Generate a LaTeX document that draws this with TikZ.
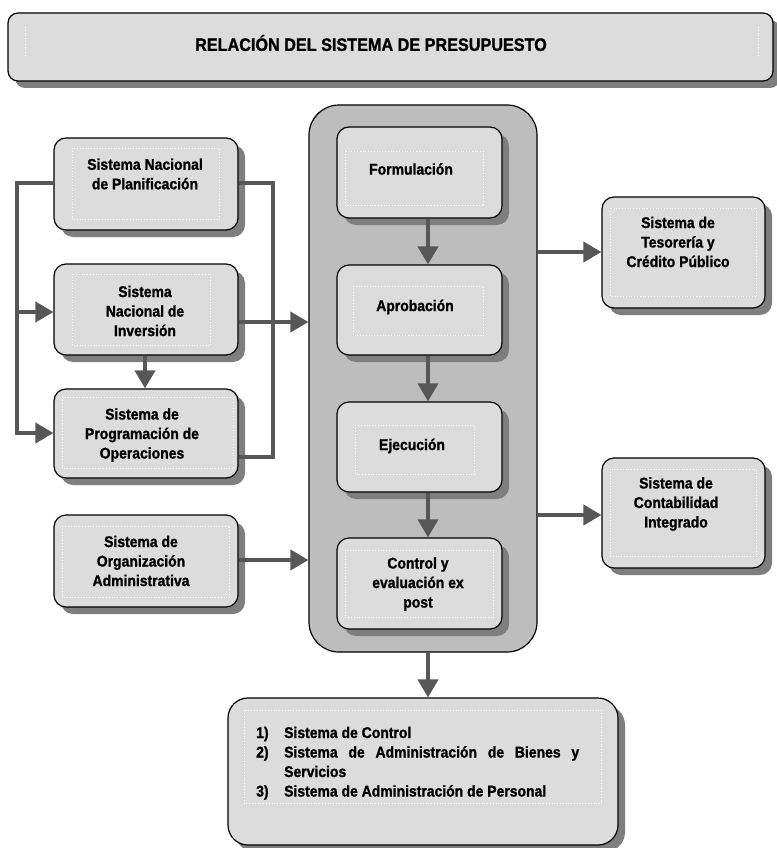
\documentclass[tikz,border=0pt]{standalone}
\usepackage{fontspec}
\setmainfont{Liberation Sans}[FakeStretch=0.9, BoldFeatures={FakeBold=1.2}]
\usetikzlibrary{arrows.meta,shadows,calc}
\definecolor{boxfill}{HTML}{DCDCDC}
\definecolor{bigfill}{HTML}{BDBDBD}
\definecolor{shade}{HTML}{7E7E7E}
\definecolor{arrowc}{HTML}{575757}
\newcommand\boxfont{\fontsize{15.5}{19.5}\selectfont\bfseries}
\newcommand\titlefont{\fontsize{18}{22}\selectfont\bfseries}
\begin{document}
\begin{tikzpicture}[x=1pt,y=-1pt,
  box/.style={draw=black, line width=1.2pt, fill=boxfill, rounded corners=12pt, inner sep=0pt,
    drop shadow={shadow xshift=7pt, shadow yshift=-7pt, fill=shade, opacity=1}},
  bigbox/.style={draw=black, line width=1.2pt, fill=bigfill, rounded corners=30pt, inner sep=0pt},
  txt/.style={font=\boxfont, align=center, inner sep=0pt},
  innerdot/.style={draw=white, dotted, line width=0.8pt},
  conn/.style={draw=arrowc, line width=4pt},
  arr/.style={conn, -{Triangle[length=18pt,width=20pt]}}
]
\useasboundingbox (0,0) rectangle (776,848);

% title
\node[box, rounded corners=10pt, minimum width=765pt, minimum height=68pt] (title) at (390.5,47) {};
\draw[innerdot] (25,27) -- (25,56);
\draw[innerdot] (758,27) -- (758,56);
\node[font=\titlefont, inner sep=0pt] (titletext) at (371,43) {RELACIÓN DEL SISTEMA DE PRESUPUESTO};

% big process container
\node[bigbox, minimum width=228pt, minimum height=547pt] (big) at (423,378.5) {};

% left column
\node[box, minimum width=184pt, minimum height=92pt] (plan) at (146,184) {};
\node[box, minimum width=184pt, minimum height=91pt] (inv) at (146,309.5) {};
\node[box, minimum width=184pt, minimum height=89pt] (prog) at (146,433.5) {};
\node[box, minimum width=184pt, minimum height=92pt] (org) at (146,561) {};

% process steps
\node[box, minimum width=165pt, minimum height=91pt] (form) at (419.5,172.5) {};
\node[box, minimum width=165pt, minimum height=90pt] (apro) at (419.5,310) {};
\node[box, minimum width=165pt, minimum height=90pt] (ejec) at (419.5,447) {};
\node[box, minimum width=165pt, minimum height=91pt] (ctrl) at (419.5,583.5) {};

% right column
\node[box, minimum width=163pt, minimum height=111pt] (teso) at (683.5,252.5) {};
\node[box, minimum width=163pt, minimum height=110pt] (cont) at (683.5,513) {};

% bottom box
\node[box, rounded corners=20pt, minimum width=390pt, minimum height=147pt] (sub) at (423,771.5) {};

% inner dotted frames
\foreach \n/\l/\t/\r/\b in {plan/19/11/19/11, inv/19/11/28/10, prog/9/9/5/10, org/9/12/9/10,
  form/9/25/19/13, apro/17/22/19/20, ejec/19/24/28/18, ctrl/9/13/9/12,
  teso/9/12/9/12, cont/9/12/9/12, sub/17/13/17/42}
  \draw[innerdot] ($(\n.north west)+(\l,\t)$) rectangle ($(\n.south east)+(-\r,-\b)$);

% texts
\node[txt] (plant) at (145,174) {Sistema Nacional\\de Planificación};
\node[txt] (invt) at (145,311) {Sistema\\Nacional de\\Inversión};
\node[txt] (progt) at (142,435) {Sistema de\\Programación de\\Operaciones};
\node[txt] (orgt) at (141,561) {Sistema de\\Organización\\Administrativa};
\node[txt] (formt) at (411,169) {Formulación};
\node[txt] (aprot) at (415,307) {Aprobación};
\node[txt] (eject) at (412,446) {Ejecución};
\node[txt] (ctrlt) at (418,584) {Control y\\evaluación ex\\post};
\node[txt] (tesot) at (678,242) {Sistema de\\Tesorería y\\Crédito Público};
\node[txt] (contt) at (676,504) {Sistema de\\Contabilidad\\Integrado};
\node[inner sep=0pt, anchor=base west, font=\boxfont] (subt) at (256,738)
 {\parbox[t]{323pt}{\tolerance=9999\hbadness=10000\hyphenpenalty=10000\exhyphenpenalty=10000
  \hangindent=28pt\hangafter=1\noindent\makebox[28pt][l]{1)}Sistema de Control\par
  \hangindent=28pt\hangafter=1\noindent\makebox[28pt][l]{2)}Sistema de Administración de Bienes y Servicios\par
  \hangindent=28pt\hangafter=1\noindent\makebox[28pt][l]{3)}Sistema de Administración de Personal\par}};

% connectors
\coordinate (lt) at (17,183);
\coordinate (lb) at (17,433);
\coordinate (lm) at (17,312);
\coordinate (rt) at (273,183);
\coordinate (rb) at (273,457);
\draw[arr] (plan.west |- lt) -- (lt) -- (lb) -- (prog.west |- lb);
\draw[arr] (lm) -- (inv.west |- lm);
\draw[conn] (plan.east |- rt) -- (rt) -- (rb) -- (prog.east |- rb);
\draw[arr] (inv.east |- 0,322) -- (big.west |- 0,322);
\draw[arr] (inv.south -| 145,0) -- (prog.north -| 145,0);
\draw[arr] (org.east |- 0,560) -- (big.west |- 0,560);
\draw[arr] (form.south -| 428,0) -- (apro.north -| 428,0);
\draw[arr] (apro.south -| 428,0) -- (ejec.north -| 428,0);
\draw[arr] (ejec.south -| 428,0) -- (ctrl.north -| 428,0);
\draw[arr] (big.east |- 0,252) -- (teso.west |- 0,252);
\draw[arr] (big.east |- 0,515) -- (cont.west |- 0,515);
\draw[arr] (big.south -| 428,0) -- (sub.north -| 428,0);
\end{tikzpicture}
\end{document}
